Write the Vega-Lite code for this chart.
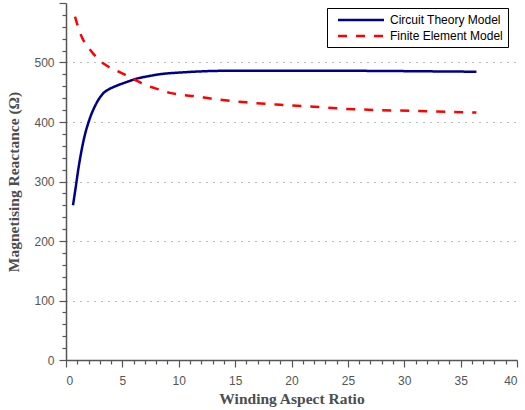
{
  "$schema": "https://vega.github.io/schema/vega-lite/v6.json",
  "width": 451,
  "height": 357,
  "autosize": {"type": "none"},
  "padding": {"left": 66, "top": 3, "right": 8, "bottom": 50},
  "background": "white",
  "config": {
    "view": {"stroke": null},
    "font": "Liberation Sans",
    "axis": {
      "domainColor": "#555555",
      "domainWidth": 1.5,
      "tickColor": "#555555",
      "tickWidth": 1.2,
      "labelColor": "#555555",
      "labelFont": "Liberation Sans",
      "labelFontSize": 12,
      "labelOverlap": false,
      "titleFont": "Liberation Serif",
      "titleFontSize": 15.5,
      "titleFontWeight": "bold",
      "titleColor": "#4d4d4d"
    },
    "legend": {
      "orient": "none",
      "legendX": 261,
      "legendY": 5,
      "strokeColor": "black",
      "fillColor": "white",
      "padding": 5,
      "symbolOffset": 22,
      "symbolType": "M-4,0H4",
      "symbolSize": 132,
      "symbolStrokeWidth": 2.5,
      "labelFont": "Liberation Sans",
      "labelFontSize": 12,
      "labelColor": "black",
      "labelOffset": 22,
      "rowPadding": 3
    }
  },
  "data": {
    "values": [
      {"ratio": 0.62, "reactance": 260, "model": "Circuit Theory Model"},
      {"ratio": 0.82, "reactance": 285, "model": "Circuit Theory Model"},
      {"ratio": 1.12, "reactance": 324, "model": "Circuit Theory Model"},
      {"ratio": 1.56, "reactance": 369, "model": "Circuit Theory Model"},
      {"ratio": 2.15, "reactance": 408, "model": "Circuit Theory Model"},
      {"ratio": 2.5, "reactance": 424, "model": "Circuit Theory Model"},
      {"ratio": 3.0, "reactance": 441, "model": "Circuit Theory Model"},
      {"ratio": 3.4, "reactance": 450, "model": "Circuit Theory Model"},
      {"ratio": 3.8, "reactance": 455, "model": "Circuit Theory Model"},
      {"ratio": 4.5, "reactance": 461, "model": "Circuit Theory Model"},
      {"ratio": 5.5, "reactance": 468, "model": "Circuit Theory Model"},
      {"ratio": 6.3, "reactance": 473, "model": "Circuit Theory Model"},
      {"ratio": 7.3, "reactance": 477, "model": "Circuit Theory Model"},
      {"ratio": 8.4, "reactance": 480.5, "model": "Circuit Theory Model"},
      {"ratio": 10, "reactance": 483, "model": "Circuit Theory Model"},
      {"ratio": 11.9, "reactance": 485, "model": "Circuit Theory Model"},
      {"ratio": 14, "reactance": 486, "model": "Circuit Theory Model"},
      {"ratio": 17, "reactance": 486, "model": "Circuit Theory Model"},
      {"ratio": 20, "reactance": 486, "model": "Circuit Theory Model"},
      {"ratio": 25, "reactance": 486, "model": "Circuit Theory Model"},
      {"ratio": 30, "reactance": 485.5, "model": "Circuit Theory Model"},
      {"ratio": 33, "reactance": 485, "model": "Circuit Theory Model"},
      {"ratio": 36.4, "reactance": 484.5, "model": "Circuit Theory Model"},
      {"ratio": 0.8, "reactance": 577, "model": "Finite Element Model"},
      {"ratio": 1.1, "reactance": 558, "model": "Finite Element Model"},
      {"ratio": 1.42, "reactance": 542, "model": "Finite Element Model"},
      {"ratio": 2.0, "reactance": 525, "model": "Finite Element Model"},
      {"ratio": 2.45, "reactance": 514, "model": "Finite Element Model"},
      {"ratio": 3.0, "reactance": 503, "model": "Finite Element Model"},
      {"ratio": 3.63, "reactance": 494.5, "model": "Finite Element Model"},
      {"ratio": 4.5, "reactance": 486, "model": "Finite Element Model"},
      {"ratio": 5.4, "reactance": 478, "model": "Finite Element Model"},
      {"ratio": 6.3, "reactance": 469, "model": "Finite Element Model"},
      {"ratio": 7.2, "reactance": 461, "model": "Finite Element Model"},
      {"ratio": 8.2, "reactance": 455, "model": "Finite Element Model"},
      {"ratio": 9.2, "reactance": 449, "model": "Finite Element Model"},
      {"ratio": 10.1, "reactance": 446, "model": "Finite Element Model"},
      {"ratio": 11.6, "reactance": 443, "model": "Finite Element Model"},
      {"ratio": 13.1, "reactance": 438.7, "model": "Finite Element Model"},
      {"ratio": 16, "reactance": 433, "model": "Finite Element Model"},
      {"ratio": 19, "reactance": 429, "model": "Finite Element Model"},
      {"ratio": 22, "reactance": 425.8, "model": "Finite Element Model"},
      {"ratio": 24.9, "reactance": 422, "model": "Finite Element Model"},
      {"ratio": 27.9, "reactance": 420, "model": "Finite Element Model"},
      {"ratio": 31, "reactance": 418.5, "model": "Finite Element Model"},
      {"ratio": 34, "reactance": 417, "model": "Finite Element Model"},
      {"ratio": 36.4, "reactance": 416, "model": "Finite Element Model"}
    ]
  },
  "mark": {"type": "line", "strokeWidth": 2.5, "interpolate": "monotone"},
  "encoding": {
    "x": {
      "field": "ratio",
      "type": "quantitative",
      "scale": {"domain": [0, 40], "nice": false},
      "axis": {
        "title": "Winding Aspect Ratio",
        "values": [0,1,2,3,4,5,6,7,8,9,10,11,12,13,14,15,16,17,18,19,20,21,22,23,24,25,26,27,28,29,30,31,32,33,34,35,36,37,38,39,40],
        "labelExpr": "datum.value % 5 === 0 ? datum.label : ''",
        "tickSize": {"condition": {"test": "datum.value % 5 === 0", "value": 7}, "value": 4},
        "grid": false,
        "labelPadding": 8,
        "titlePadding": 5
      }
    },
    "y": {
      "field": "reactance",
      "type": "quantitative",
      "scale": {"domain": [0, 600], "nice": false},
      "axis": {
        "title": "Magnetising Reactance (Ω)",
        "values": [0,20,40,60,80,100,120,140,160,180,200,220,240,260,280,300,320,340,360,380,400,420,440,460,480,500,520,540,560,580,600],
        "labelExpr": "datum.value % 100 === 0 && datum.value < 600 ? datum.label : ''",
        "tickSize": {"condition": {"test": "datum.value % 100 === 0", "value": 7}, "value": 4},
        "grid": true,
        "gridColor": "#777777",
        "gridDash": [1, 6],
        "gridWidth": 1,
        "gridOpacity": {"condition": {"test": "datum.value % 100 === 0 && datum.value > 0 && datum.value < 600", "value": 1}, "value": 0},
        "labelPadding": 5,
        "titlePadding": 12
      }
    },
    "color": {
      "field": "model",
      "type": "nominal",
      "scale": {"domain": ["Circuit Theory Model", "Finite Element Model"], "range": ["#00008B", "#FF0000"]},
      "legend": {"title": null}
    },
    "strokeDash": {
      "field": "model",
      "type": "nominal",
      "scale": {"domain": ["Circuit Theory Model", "Finite Element Model"], "range": [[1, 0], [9, 9]]},
      "legend": {"title": null}
    }
  }
}
